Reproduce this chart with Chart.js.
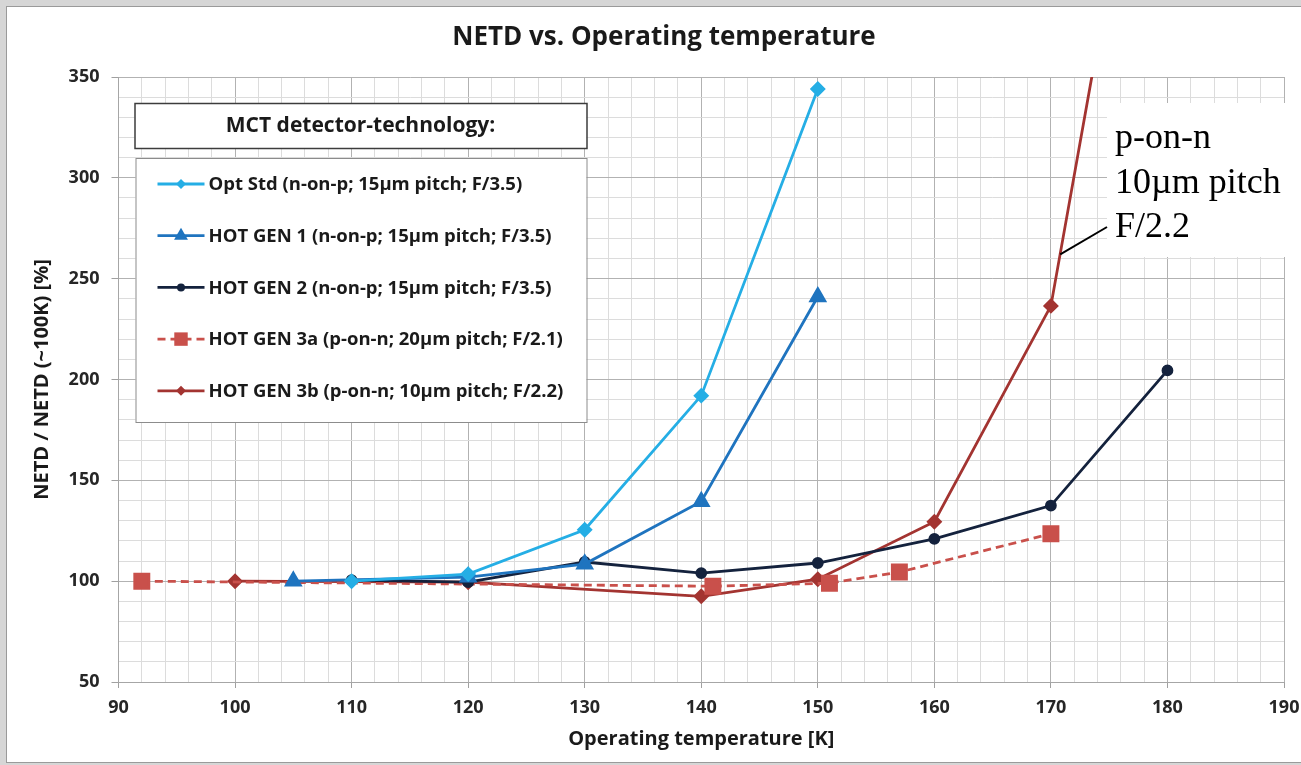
<!DOCTYPE html>
<html>
<head>
<meta charset="utf-8">
<title>NETD vs. Operating temperature</title>
<script src="https://cdn.jsdelivr.net/npm/chart.js@4.4.1/dist/chart.umd.min.js"></script>
<style>
  html, body { margin: 0; padding: 0; background: #fff; }
  canvas { display: block; }
</style>
</head>
<body>
<canvas id="netd" width="1301" height="765"></canvas>
<script>
// temperatures [K] and relative NETD [%] per detector technology
const optStdT = [110, 120, 130, 140, 150];
const optStdV = [100, 103.5, 125.5, 192, 344];

const gen1T = [105, 120, 130, 140, 150];
const gen1V = [100, 102, 108.5, 139.5, 241];

const gen2T = [110, 120, 130, 140, 150, 160, 170, 180];
const gen2V = [100.5, 99.5, 109.5, 104, 109, 121, 137.5, 204.5];

const gen3aT = [92, 141, 151, 157, 170];
const gen3aV = [100, 97.5, 99, 104.5, 123.5];

// last point lies above the plotted range, line leaves through the top
const gen3bT = [100, 120, 140, 150, 160, 170, 180];
const gen3bV = [100, 99.5, 92.5, 101, 129.5, 236.5, 560];

const seriesNames = [
    'Opt Std (n-on-p; 15µm pitch; F/3.5)',
    'HOT GEN 1 (n-on-p; 15µm pitch; F/3.5)',
    'HOT GEN 2 (n-on-p; 15µm pitch; F/3.5)',
    'HOT GEN 3a (p-on-n; 20µm pitch; F/2.1)',
    'HOT GEN 3b (p-on-n; 10µm pitch; F/2.2)'
];

const xLabels = [90, 100, 110, 120, 130, 140, 150, 160, 170, 180, 190];
const yLabels = [50, 100, 150, 200, 250, 300, 350];

const noteLines = ['p-on-n', '10µm pitch', 'F/2.2'];

const pts = (t, v) => t.map((x, i) => ({ x: x, y: v[i] }));

const tickFont = { family: 'Open Sans', size: 18, weight: 'bold' };
const titleFont = { family: 'Open Sans', size: 20, weight: 'bold' };

function drawMarker(c, style, x, y, r) {
    c.beginPath();
    if (style === 'rectRot') {
        c.moveTo(x - r, y); c.lineTo(x, y - r); c.lineTo(x + r, y); c.lineTo(x, y + r);
    } else if (style === 'triangle') {
        c.moveTo(x, y - r); c.lineTo(x + r * 0.866, y + r * 0.5); c.lineTo(x - r * 0.866, y + r * 0.5);
    } else if (style === 'rect') {
        const s = r * Math.SQRT1_2;
        c.rect(x - s, y - s, 2 * s, 2 * s);
    } else {
        c.arc(x, y, r, 0, Math.PI * 2);
    }
    c.closePath();
    c.fill();
}

const framePlugin = {
    id: 'frame',
    beforeDraw(chart) {
        const c = chart.ctx;
        c.save();
        c.fillStyle = '#d6d6d6';
        c.fillRect(0, 0, chart.width, chart.height);
        c.fillStyle = '#ffffff';
        c.fillRect(6, 6, chart.width - 6, chart.height - 8);
        c.strokeStyle = '#9a9a9a';
        c.lineWidth = 1;
        c.strokeRect(6.5, 6.5, chart.width, chart.height - 9);
        c.restore();
    }
};

const legendPlugin = {
    id: 'mctLegend',
    afterDraw(chart) {
        const c = chart.ctx;
        const a = chart.chartArea;
        const l = a.left + 16;
        c.save();
        // caption box
        c.fillStyle = '#fff';
        c.fillRect(l, 103, 452, 45);
        c.strokeStyle = '#3c3c3c';
        c.lineWidth = 1.5;
        c.strokeRect(l + 0.5, 103.5, 452, 45);
        c.font = 'bold 21px "Open Sans"';
        c.fillStyle = '#1a1a1a';
        c.textAlign = 'center';
        c.textBaseline = 'middle';
        c.fillText('MCT detector-technology:', l + 226, 126);
        // entries box
        c.fillStyle = '#fff';
        c.fillRect(l + 1, 158, 451, 264);
        c.strokeStyle = '#8c8c8c';
        c.lineWidth = 1;
        c.strokeRect(l + 1.5, 158.5, 451, 264);
        c.textAlign = 'left';
        c.font = 'bold 18.5px "Open Sans"';
        chart.data.datasets.forEach((ds, i) => {
            const y = 184 + i * 51.7;
            c.strokeStyle = ds.borderColor;
            c.lineWidth = ds.borderWidth;
            c.setLineDash(ds.borderDash || []);
            c.beginPath();
            c.moveTo(l + 23, y);
            c.lineTo(l + 70, y);
            c.stroke();
            c.setLineDash([]);
            c.fillStyle = ds.pointBackgroundColor;
            drawMarker(c, ds.pointStyle, l + 46.5, y, ds.legendRadius);
            c.fillStyle = '#1a1a1a';
            c.fillText(ds.label, l + 74, y + 1);
        });
        c.restore();
    }
};

const notePlugin = {
    id: 'note',
    afterDraw(chart) {
        const c = chart.ctx;
        const xs = chart.scales.x;
        const ys = chart.scales.y;
        c.save();
        // chart title
        c.font = 'bold 26px "Open Sans"';
        c.fillStyle = '#1a1a1a';
        c.textAlign = 'center';
        c.textBaseline = 'middle';
        c.fillText('NETD vs. Operating temperature', 664, 38);
        // callout for the 10µm p-on-n curve
        c.fillStyle = '#fff';
        c.fillRect(1107, 103, chart.width - 1107, 154);
        c.strokeStyle = '#000';
        c.lineWidth = 2;
        c.beginPath();
        c.moveTo(xs.getPixelForValue(170.8), ys.getPixelForValue(262));
        c.lineTo(1107, 227);
        c.stroke();
        c.fillStyle = '#000';
        c.textAlign = 'left';
        c.textBaseline = 'alphabetic';
        c.font = '36px "Liberation Serif"';
        noteLines.forEach((t, i) => c.fillText(t, 1115, 148 + i * 44.5));
        c.restore();
    }
};

const ctx = document.getElementById('netd');

new Chart(ctx, {
    type: 'line',
    data: {
        datasets: [{
            label: seriesNames[0],
            data: pts(optStdT, optStdV),
            borderColor: '#25aee5',
            borderWidth: 2.8,
            pointStyle: 'rectRot',
            pointRadius: 6,
            legendRadius: 5,
            pointBackgroundColor: '#25aee5',
            pointBorderColor: '#25aee5'
        },
        {
            label: seriesNames[1],
            data: pts(gen1T, gen1V),
            borderColor: '#1f74bf',
            borderWidth: 2.8,
            pointStyle: 'triangle',
            pointRadius: 8,
            legendRadius: 8,
            pointBackgroundColor: '#1f74bf',
            pointBorderColor: '#1f74bf'
        },
        {
            label: seriesNames[2],
            data: pts(gen2T, gen2V),
            borderColor: '#14223d',
            borderWidth: 2.8,
            pointStyle: 'circle',
            pointRadius: 4.5,
            legendRadius: 4,
            pointBackgroundColor: '#14223d',
            pointBorderColor: '#14223d'
        },
        {
            label: seriesNames[3],
            data: pts(gen3aT, gen3aV),
            borderColor: '#c9504b',
            borderWidth: 2.8,
            borderDash: [8, 5],
            pointStyle: 'rect',
            pointRadius: 10,
            legendRadius: 9.5,
            pointBackgroundColor: '#c9504b',
            pointBorderColor: '#c9504b'
        },
        {
            label: seriesNames[4],
            data: pts(gen3bT, gen3bV),
            borderColor: '#a33431',
            borderWidth: 2.8,
            pointStyle: 'rectRot',
            pointRadius: 6,
            legendRadius: 5,
            pointBackgroundColor: '#a33431',
            pointBorderColor: '#a33431',
            clip: 0
        }]
    },
    options: {
        responsive: false,
        animation: false,
        layout: {
            padding: { left: 20, right: 17, top: 77, bottom: 10 }
        },
        elements: {
            line: { tension: 0 },
            point: { borderWidth: 1 }
        },
        scales: {
            x: {
                type: 'linear',
                min: 90,
                max: 190,
                afterFit: s => { s.height = 73; s.paddingLeft = 0; s.paddingRight = 0; },
                ticks: {
                    stepSize: 2,
                    autoSkip: false,
                    maxRotation: 0,
                    padding: 9,
                    color: '#262626',
                    font: tickFont,
                    callback: v => xLabels.includes(v) ? v : ''
                },
                grid: {
                    color: c => c.tick && c.tick.value % 10 === 0 ? '#b2b2b2' : '#dcdcdc',
                    tickColor: c => c.tick && c.tick.value % 10 === 0 ? '#a0a0a0' : 'rgba(0,0,0,0)',
                    tickLength: 6
                },
                border: { color: '#a6a6a6' },
                title: {
                    display: true,
                    text: 'Operating temperature [K]',
                    color: '#1a1a1a',
                    font: titleFont,
                    padding: { top: 0, bottom: 4 }
                }
            },
            y: {
                min: 50,
                max: 350,
                afterFit: s => { s.width = 98.5; },
                ticks: {
                    stepSize: 10,
                    autoSkip: false,
                    padding: 12,
                    color: '#262626',
                    font: tickFont,
                    callback: v => yLabels.includes(v) ? v : ''
                },
                grid: {
                    color: c => c.tick && c.tick.value % 50 === 0 ? '#b2b2b2' : '#dcdcdc',
                    tickColor: c => c.tick && c.tick.value % 50 === 0 ? '#a0a0a0' : 'rgba(0,0,0,0)',
                    tickLength: 7
                },
                border: { color: '#a6a6a6' },
                title: {
                    display: true,
                    text: 'NETD / NETD (~100K) [%]',
                    color: '#1a1a1a',
                    font: titleFont,
                    padding: { top: 10, bottom: 0 }
                }
            }
        },
        plugins: {
            legend: { display: false },
            tooltip: { enabled: false }
        }
    },
    plugins: [framePlugin, legendPlugin, notePlugin]
});
</script>
</body>
</html>
